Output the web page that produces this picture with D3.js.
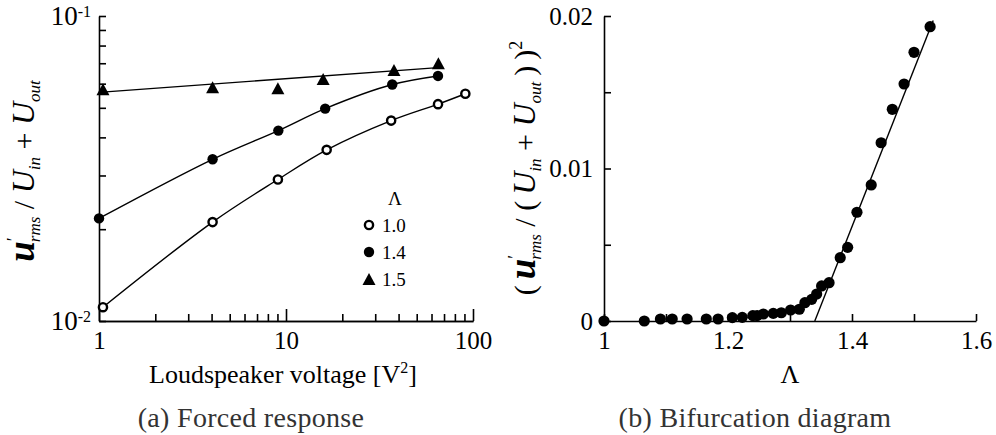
<!DOCTYPE html>
<html>
<head>
<meta charset="utf-8">
<script src="https://cdn.jsdelivr.net/npm/d3@7"></script>
<style>
  html, body { margin: 0; padding: 0; background: #fff; }
  svg { display: block; font-family: "Liberation Serif", "Times New Roman", serif; }
  .axis path, .axis line { stroke: #000; stroke-width: 1.6px; }
  .axis text { fill: #000; font-family: "Liberation Serif", serif; font-size: 25px; }
</style>
</head>
<body>
<svg id="chart" width="996" height="435"></svg>
<script>
// ---- (a) Forced response: rms amplitude against loudspeaker voltage ----
const voltageL10 = [1.05, 4.05, 9.05, 16.5, 36.5, 65, 91];
const respL10    = [0.0111, 0.0211, 0.0291, 0.0364, 0.0454, 0.0514, 0.0556];
const voltageL14 = [1.0, 4.05, 9.1, 16.2, 37, 65];
const respL14    = [0.0217, 0.0339, 0.0421, 0.0497, 0.0596, 0.0636];
const voltageL15 = [1.05, 4.05, 9.05, 15.8, 37.8, 65.3];
const respL15    = [0.0575, 0.0584, 0.0580, 0.0622, 0.0665, 0.0700];
// power-law fit drawn through the Λ = 1.5 points
const fitL15Voltage = [1, 65];
const fitL15Resp    = [0.0562, 0.0677];
const legendLabels  = ["1.0", "1.4", "1.5"];
const xTicksA = [1, 10, 100];
const xMinorA = [2, 3, 4, 5, 6, 7, 8, 9, 20, 30, 40, 50, 60, 70, 80, 90];
const yTicksA = [0.01, 0.02, 0.03, 0.04, 0.05, 0.06, 0.07, 0.08, 0.09, 0.1];

// ---- (b) Bifurcation diagram: squared amplitude against Λ ----
const lambdaB = [1.0, 1.065, 1.091, 1.110, 1.134, 1.165, 1.184, 1.207, 1.223, 1.240,
                 1.247, 1.257, 1.273, 1.286, 1.301, 1.315, 1.324, 1.335, 1.343, 1.351,
                 1.363, 1.381, 1.393, 1.408, 1.431, 1.447, 1.465, 1.484, 1.500, 1.526];
const ampSqB   = [0, 0, 0.00013, 0.00013, 0.00013, 0.00013, 0.00013, 0.00022, 0.00024, 0.00035,
                  0.00035, 0.00046, 0.00050, 0.00054, 0.00072, 0.00077, 0.00120, 0.00142, 0.00177, 0.00230,
                  0.00251, 0.00415, 0.00483, 0.00713, 0.00892, 0.01169, 0.01388, 0.01554, 0.01762, 0.01930];
// linear fit of the supercritical branch
const fitLambdaB = [1.340, 1.531];
const fitAmpB    = [0, 0.0197];
const xTicksB = [1.0, 1.1, 1.2, 1.3, 1.4, 1.5, 1.6];
const xLabelsB = {1.0: "1", 1.2: "1.2", 1.4: "1.4", 1.6: "1.6"};
const yTicksB = [0, 0.005, 0.01, 0.015, 0.02];
const yLabelsB = {0: "0", 0.01: "0.01", 0.02: "0.02"};

const svg = d3.select("#chart");
const serif = "Liberation Serif, serif";

// ================= panel (a) =================
const xA = d3.scaleLog().domain([1, 100]).range([99, 473]);
const yA = d3.scaleLog().domain([0.01, 0.1]).range([321, 16]);
const gA = svg.append("g");

// x axis: long ticks on decades, short ticks in between
gA.append("g").attr("class", "axis").attr("transform", `translate(0,${yA.range()[0]})`)
  .call(d3.axisBottom(xA).tickValues(xMinorA).tickSizeInner(-7).tickSizeOuter(0).tickFormat(""));
gA.append("g").attr("class", "axis").attr("transform", `translate(0,${yA.range()[0]})`)
  .call(d3.axisBottom(xA).tickValues(xTicksA).tickSizeInner(-12).tickSizeOuter(0)
        .tickPadding(10).tickFormat(d3.format("d")));

// y axis with 10^n labels on decades
const yAxisA = gA.append("g").attr("class", "axis").attr("transform", `translate(${xA.range()[0]},0)`)
  .call(d3.axisLeft(yA).tickValues(yTicksA).tickSizeInner(-7).tickSizeOuter(0).tickPadding(8)
        .tickFormat(d => (d === 0.01 || d === 0.1) ? "x" : ""));
yAxisA.selectAll(".tick text").each(function(d) {
  const t = d3.select(this);
  if (t.text() === "") return;
  t.text("").attr("dy", "0.3em").style("font-size", "27px");
  t.append("tspan").text("10");
  t.append("tspan").attr("font-size", 16).attr("dy", "-0.5em").text(String(Math.round(Math.log10(d))));
});

// lines
const lineA = d3.line().x(d => xA(d[0])).y(d => yA(d[1]));
const curveA = d3.line().x(d => xA(d[0])).y(d => yA(d[1])).curve(d3.curveCatmullRom.alpha(0.5));
gA.append("path").datum(d3.zip(voltageL10, respL10)).attr("d", curveA)
  .attr("fill", "none").attr("stroke", "#000").attr("stroke-width", 1.4);
gA.append("path").datum(d3.zip(voltageL14, respL14)).attr("d", curveA)
  .attr("fill", "none").attr("stroke", "#000").attr("stroke-width", 1.4);
gA.append("path").datum(d3.zip(fitL15Voltage, fitL15Resp)).attr("d", lineA)
  .attr("fill", "none").attr("stroke", "#000").attr("stroke-width", 1.4);

// markers
const triPath = (cx, cy, w = 13, h = 12) =>
  `M${cx},${cy - h / 2}L${cx + w / 2},${cy + h / 2}L${cx - w / 2},${cy + h / 2}Z`;

gA.append("g").selectAll("circle").data(d3.zip(voltageL10, respL10)).join("circle")
  .attr("cx", d => xA(d[0])).attr("cy", d => yA(d[1])).attr("r", 4.1)
  .attr("fill", "#fff").attr("stroke", "#000").attr("stroke-width", 2.4);
gA.append("g").selectAll("circle").data(d3.zip(voltageL14, respL14)).join("circle")
  .attr("cx", d => xA(d[0])).attr("cy", d => yA(d[1])).attr("r", 5.2).attr("fill", "#000");
gA.append("g").selectAll("path").data(d3.zip(voltageL15, respL15)).join("path")
  .attr("d", d => triPath(xA(d[0]), yA(d[1]))).attr("fill", "#000");

// legend
const lg = gA.append("g").attr("font-family", serif).attr("font-size", 19);
lg.append("text").attr("x", 395).attr("y", 205).attr("text-anchor", "middle").text("Λ");
const legRows = [225, 252, 279];
lg.append("circle").attr("cx", 369).attr("cy", legRows[0]).attr("r", 4.1)
  .attr("fill", "#fff").attr("stroke", "#000").attr("stroke-width", 2.4);
lg.append("circle").attr("cx", 369).attr("cy", legRows[1]).attr("r", 5.2).attr("fill", "#000");
lg.append("path").attr("d", triPath(369, legRows[2])).attr("fill", "#000");
lg.selectAll("text.lab").data(legendLabels).join("text").attr("class", "lab")
  .attr("x", 382).attr("y", (d, i) => legRows[i] + 7).text(d => d);

// axis titles (rotated), built from tspans for sub/superscripts
function amplitudeLabel(t, squared) {
  const big = 30, subSize = 17, thin = "\u2009";
  const sub = (txt) => t.append("tspan").attr("font-style", "italic").attr("font-size", subSize).attr("dy", 6).text(txt);
  if (squared) t.append("tspan").attr("font-size", big).text("(" + thin);
  t.append("tspan").attr("font-style", "italic").attr("font-weight", "bold").attr("font-size", 37)
    .attr("dy", squared ? 0 : 0).text("u");
  t.append("tspan").attr("font-size", 18).attr("dy", -14).text("′");
  t.append("tspan").attr("font-style", "italic").attr("font-size", subSize).attr("dx", -5).attr("dy", 20).text("rms");
  t.append("tspan").attr("font-size", big).attr("dy", -6).text(squared ? " / (" + thin : " / ");
  t.append("tspan").attr("font-style", "italic").attr("font-size", 32).text("U");
  sub("in");
  t.append("tspan").attr("font-size", big).attr("dy", -6).text(" + ");
  t.append("tspan").attr("font-style", "italic").attr("font-size", 32).text("U");
  sub("out");
  if (squared) {
    t.append("tspan").attr("font-size", big).attr("dy", -6).text(thin + ")" + thin + ")");
    t.append("tspan").attr("font-size", 18).attr("dy", -13).text("2");
  }
}
const titleA = svg.append("text").attr("font-family", serif).attr("text-anchor", "middle")
  .attr("transform", "translate(34,171) rotate(-90)");
amplitudeLabel(titleA, false);

const xtA = svg.append("text").attr("font-family", serif).attr("font-size", 26)
  .attr("text-anchor", "middle").attr("x", 283).attr("y", 383);
xtA.append("tspan").text("Loudspeaker voltage [V");
xtA.append("tspan").attr("font-size", 16).attr("dy", -10).text("2");
xtA.append("tspan").attr("dy", 10).text("]");

svg.append("text").attr("font-family", serif).attr("font-size", 28).attr("letter-spacing", 0.3)
  .attr("fill", "#333").attr("text-anchor", "middle").attr("x", 251).attr("y", 427)
  .text("(a) Forced response");

// ================= panel (b) =================
const xB = d3.scaleLinear().domain([1, 1.6]).range([604, 976]);
const yB = d3.scaleLinear().domain([0, 0.02]).range([321, 16]);
const gB = svg.append("g");

gB.append("g").attr("class", "axis").attr("transform", `translate(0,${yB(0)})`)
  .call(d3.axisBottom(xB).tickValues(xTicksB).tickSizeInner(-7).tickSizeOuter(0).tickPadding(10)
        .tickFormat(d => xLabelsB[+d.toFixed(1)] || ""));
gB.append("g").attr("class", "axis").attr("transform", `translate(${xB(1)},0)`)
  .call(d3.axisLeft(yB).tickValues(yTicksB).tickSizeInner(-7).tickSizeOuter(0).tickPadding(11)
        .tickFormat(d => yLabelsB[+d.toFixed(3)] || ""));

gB.append("path").datum(d3.zip(fitLambdaB, fitAmpB))
  .attr("d", d3.line().x(d => xB(d[0])).y(d => yB(d[1])))
  .attr("fill", "none").attr("stroke", "#000").attr("stroke-width", 1.4);
gB.append("g").selectAll("circle").data(d3.zip(lambdaB, ampSqB)).join("circle")
  .attr("cx", d => xB(d[0])).attr("cy", d => yB(d[1])).attr("r", 5.6).attr("fill", "#000");

const titleB = svg.append("text").attr("font-family", serif).attr("text-anchor", "middle")
  .attr("transform", "translate(535,168) rotate(-90)");
amplitudeLabel(titleB, true);

svg.append("text").attr("font-family", serif).attr("font-size", 26)
  .attr("text-anchor", "middle").attr("x", 790).attr("y", 383).text("Λ");
svg.append("text").attr("font-family", serif).attr("font-size", 28).attr("letter-spacing", 0.3)
  .attr("fill", "#333").attr("text-anchor", "middle").attr("x", 755).attr("y", 427)
  .text("(b) Bifurcation diagram");
</script>
</body>
</html>
